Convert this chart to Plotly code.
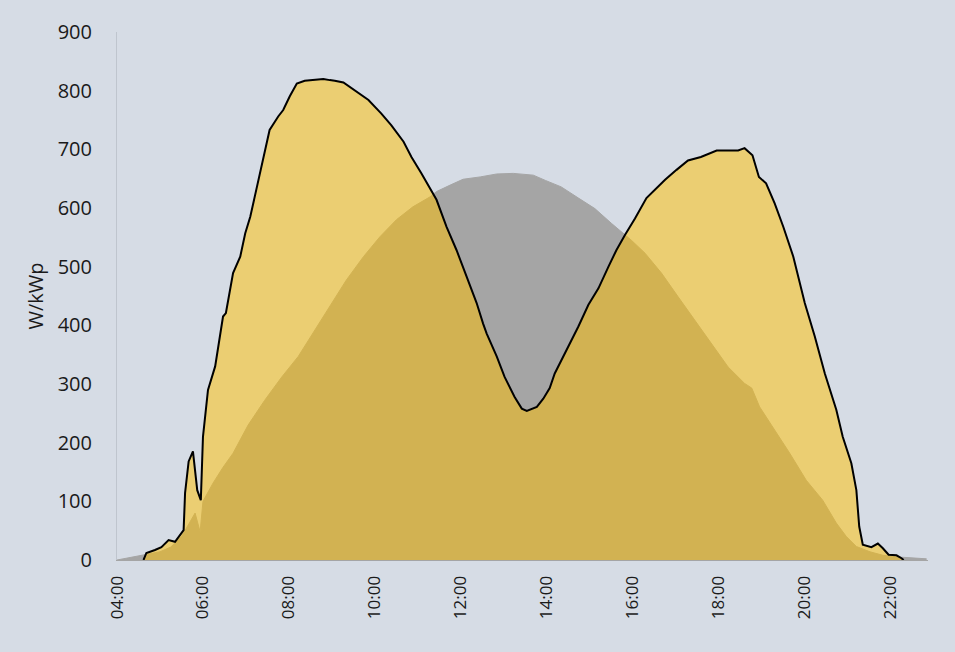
import plotly.graph_objects as go

DAY = "2024-06-21 "

# Yellow series (east/west) - time, W/kWp
yellow_times = ["04:37","04:41","04:53","05:02","05:12","05:21","05:33","05:35","05:40","05:46",
                "05:52","05:57","06:00","06:07","06:17","06:28","06:32","06:40","06:42","06:52",
                "06:59","07:06","07:15","07:24","07:33","07:45","07:52","08:01","08:11","08:22",
                "08:35","08:48","08:57","09:04","09:16","09:34","09:51","10:09","10:23","10:40",
                "10:51","11:05","11:17","11:26","11:40","11:54","12:08","12:22","12:31","12:36",
                "12:50","13:01","13:15","13:25","13:32","13:46","13:55","14:04","14:11","14:28",
                "14:44","14:58","15:12","15:26","15:37","15:49","16:03","16:19","16:33","16:45",
                "17:01","17:17","17:35","17:57","18:27","18:36","18:47","18:56","19:06","19:18",
                "19:30","19:44","20:00","20:14","20:28","20:44","20:53","21:05","21:12","21:16",
                "21:21","21:33","21:42","21:49","21:57","22:08","22:15","22:18"]
yellow_values = [0,12,17,22,34,31,51,114,168,185,
                 119,102,210,290,330,415,421,474,489,517,
                 557,585,636,687,733,756,767,790,812,817,
                 818,820,818,817,814,798,784,761,741,713,
                 687,659,634,614,568,528,483,438,403,386,
                 347,312,278,258,254,261,275,293,318,358,
                 398,435,463,500,528,554,582,617,634,648,
                 665,681,687,698,698,702,690,653,642,608,
                 568,517,438,381,318,256,210,165,119,57,
                 26,22,28,20,9,8,3,0]

# Gray series (south) - time, W/kWp
gray_times = ["04:00","04:25","04:37","05:00","05:15","05:30","05:33","05:42","05:49","05:56",
              "06:00","06:14","06:28","06:42","07:03","07:26","07:50","08:13","08:36","08:59",
              "09:20","09:44","10:07","10:30","10:53","11:17","11:26","11:45","12:03","12:27",
              "12:50","13:13","13:41","13:58","14:20","14:44","15:07","15:30","15:46","15:58",
              "16:17","16:40","17:03","17:26","17:50","18:13","18:36","18:46","18:57","19:15",
              "19:39","20:02","20:25","20:44","20:58","21:12","21:31","21:49","22:12","22:50"]
gray_values = [0,6,8,14,22,40,46,65,80,48,
               100,131,158,182,230,272,312,347,392,435,
               477,517,551,580,602,619,628,639,649,653,
               658,659,656,647,636,617,599,574,557,545,
               523,489,449,409,369,329,301,293,261,227,
               182,136,102,63,40,23,14,8,5,2]

BG = "#D6DCE5"
FONT = "Open Sans"
TXT = "#1A1A1A"

fig = go.Figure()
fig.add_trace(go.Scatter(
    x=[DAY + t for t in gray_times], y=gray_values,
    mode="lines", fill="tozeroy",
    line=dict(color="#A5A5A5", width=1),
    fillcolor="#A5A5A5", hoverinfo="skip"))
fig.add_trace(go.Scatter(
    x=[DAY + t for t in yellow_times], y=yellow_values,
    mode="lines", fill="tozeroy",
    line=dict(color="#000000", width=2),
    fillcolor="rgba(255,192,0,0.5)", hoverinfo="skip"))

fig.update_layout(
    width=955, height=652,
    paper_bgcolor=BG, plot_bgcolor=BG,
    margin=dict(l=117, r=27, t=32, b=92),
    showlegend=False,
    font=dict(family=FONT, color=TXT),
    xaxis=dict(
        type="date",
        range=[DAY + "04:00", DAY + "22:52"],
        tick0=DAY + "04:00", dtick=7200000,
        tickformat="%H:%M", tickangle=-90,
        tickfont=dict(size=17, family=FONT, color=TXT),
        showgrid=False, zeroline=False,
        showline=True, linecolor="#A5A5A5", linewidth=1,
        ticks="", ticklabelstandoff=8,
    ),
    yaxis=dict(
        range=[0, 900], dtick=100,
        tickfont=dict(size=20, family=FONT, color=TXT),
        showgrid=False, zeroline=False,
        showline=True, linecolor="#BFC5CE", linewidth=1,
        ticks="", ticklabelstandoff=20,
        title=dict(text="W/kWp", font=dict(size=20, family=FONT, color=TXT), standoff=8),
    ),
)

fig.write_html(
    "out.html",
    config={"displayModeBar": False},
    post_script="document.body.style.margin='0';document.body.style.background='" + BG + "';",
)
